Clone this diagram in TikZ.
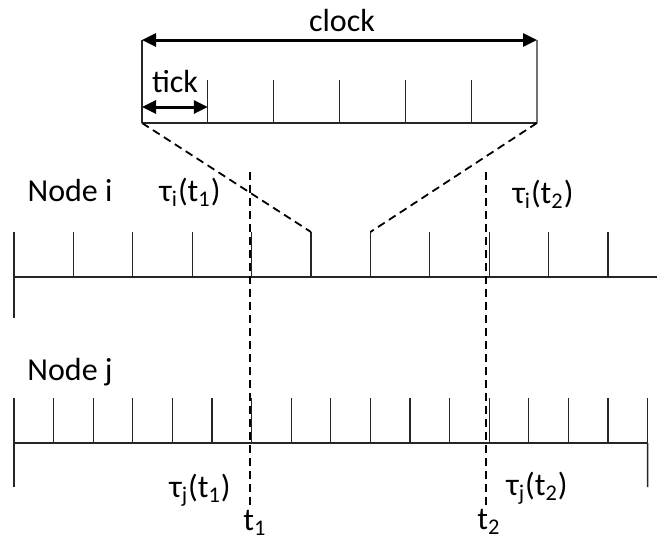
\documentclass[tikz,border=0pt]{standalone}
\usepackage{fontspec}
\setmainfont{Carlito}
\usetikzlibrary{arrows.meta,positioning}

\begin{document}
\begin{tikzpicture}[x=0.5pt,y=-0.5pt]
		\tikzstyle{axis}=[line width=0.65pt, draw=black!85]
		\tikzstyle{sync}=[line width=0.9pt, dash pattern=on 4pt off 2.5pt]
		\tikzstyle{span}=[line width=1.5pt, {Triangle[length=7pt,width=6.5pt]}-{Triangle[length=7pt,width=6.5pt]}]
		\tikzstyle{lbl}=[font=\fontsize{16}{19}\selectfont, inner sep=0pt]
		\useasboundingbox (0,0) rectangle (657,542);
		
		% one clock, zoomed in
		\draw[axis] (142,123) -- (537,123);
		\foreach \k in {0,...,6} {
			\coordinate (c\k) at ({142+65.83*\k},123);
			\coordinate (ct\k) at ({142+65.83*\k},80);
		}
		\coordinate (ct0) at (142,40);
		\coordinate (ct6) at (537,40);
		\foreach \k in {0,...,6} \draw[axis] (c\k) -- (ct\k);
		\draw[span] (ct0) -- (ct6);
		\draw[span] (142,107) -- (c1 |- 0,107);
		\node[lbl] (clock) at (342,20) {clock};
		\node[lbl] (tick)  at (175,82) {tick};
		
		% node i
		\draw[axis] (14,277) -- (657,277);
		\foreach \k in {0,...,10} {
			\coordinate (ib\k) at ({14+59.4*\k},277);
			\coordinate (i\k)  at ({14+59.4*\k},232);
			\draw[axis] (ib\k) -- (i\k);
		}
		\draw[axis] (ib0) -- (14,318);
		
		% node j
		\draw[axis] (14,443) -- (647,443);
		\foreach \k in {0,...,16} {
			\coordinate (jb\k) at ({14+39.6*\k},443);
			\coordinate (j\k)  at ({14+39.6*\k},398);
			\draw[axis] (jb\k) -- (j\k);
		}
		\draw[axis] (jb0) -- (14,487);
		\draw[axis] (jb16) -- (647.6,487);
		
		% zoom lines
		\draw[sync] (c0) -- (i5);
		\draw[sync] (c6) -- (i6);
		
		% real time instants
		\coordinate (t1top) at (250,172);
		\coordinate (t1bot) at (250,508);
		\coordinate (t2top) at (486,172);
		\coordinate (t2bot) at (486,508);
		\draw[sync] (t1top) -- (t1bot);
		\draw[sync] (t2top) -- (t2bot);
		\node[lbl] (t1) at (255,523) {t\textsubscript{1}};
		\node[lbl] (t2) at (489,522) {t\textsubscript{2}};
		
		\node[lbl] (nodei) at (70,190)  {Node i};
		\node[lbl] (nodej) at (70,372)  {Node j};
		\node[lbl] (tauit1) at (190,192) {τ\textsubscript{i}(t\textsubscript{1})};
		\node[lbl] (tauit2) at (543,194) {τ\textsubscript{i}(t\textsubscript{2})};
		\node[lbl] (taujt1) at (200,490) {τ\textsubscript{j}(t\textsubscript{1})};
		\node[lbl] (taujt2) at (537,488) {τ\textsubscript{j}(t\textsubscript{2})};
		
\end{tikzpicture}
\end{document}
